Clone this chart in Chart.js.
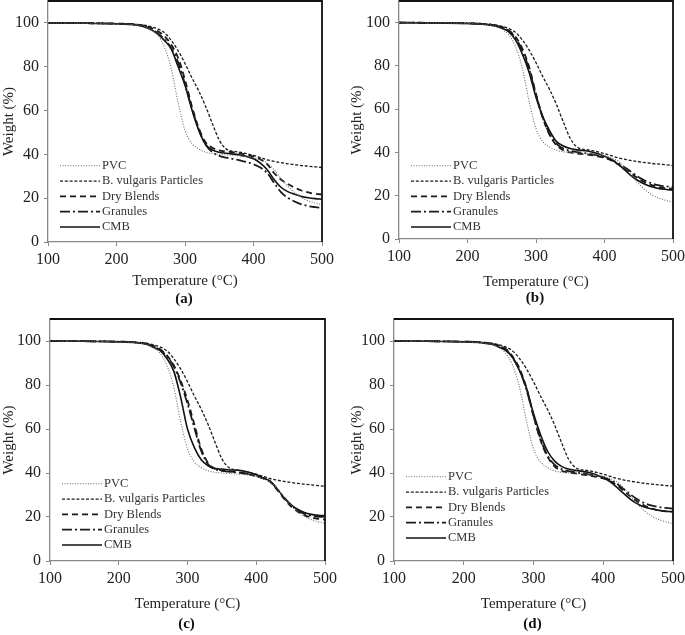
<!DOCTYPE html>
<html>
<head>
<meta charset="utf-8">
<script src="https://cdn.jsdelivr.net/npm/chart.js@4.4.1/dist/chart.umd.min.js"></script>
<style>
  html, body { margin: 0; padding: 0; background: #fff; }
  #wrap { position: relative; width: 685px; height: 635px; overflow: hidden; }
  canvas { position: absolute; }
</style>
</head>
<body>
<div id="wrap">
  <canvas id="chartA" width="342" height="310" style="left:0;top:0"></canvas>
  <canvas id="chartB" width="343" height="310" style="left:342px;top:0"></canvas>
  <canvas id="chartC" width="342" height="325" style="left:0;top:310px"></canvas>
  <canvas id="chartD" width="343" height="325" style="left:342px;top:310px"></canvas>
</div>
<script>
// temperature grid (°C) shared by every curve
const temps = [100, 150, 200, 225, 240, 250, 260, 270, 280, 290, 300, 310, 320, 330, 340,
  350, 360, 380, 400, 410, 420, 430, 440, 450, 460, 470, 480, 490, 500];
const yTicks = [0, 20, 40, 60, 80, 100];
const seriesNames = ['PVC', 'B. vulgaris Particles', 'Dry Blends', 'Granules', 'CMB'];

// weight (%)
const pvc = [100, 99.9, 99.6, 99.2, 98.5, 97, 94.5, 89, 79, 63.5, 51, 45, 42.5, 41, 40.3,
  40, 39.8, 39.3, 38.5, 37.5, 36, 33, 29, 25.5, 22.5, 20.3, 18.8, 17.8, 17];
const bVulgaris = [100, 99.9, 99.7, 99.4, 99, 98.3, 97.3, 95.5, 92, 87.3, 81.5, 75, 69, 62, 54,
  46.5, 42.5, 41, 39.5, 38.5, 37.5, 36.8, 36.2, 35.7, 35.3, 34.9, 34.6, 34.3, 34];

// (a)
const dryA = [100, 99.9, 99.7, 99.4, 98.8, 97.8, 96.3, 94, 90, 84, 74, 62, 52, 45.5, 43,
  41.8, 41.3, 40.5, 39, 37.8, 35.5, 31.5, 28.5, 26.5, 24.8, 23.5, 22.6, 22, 21.7];
const granA = [100, 99.9, 99.6, 99.2, 98.5, 97.2, 95.3, 92.5, 88.5, 82, 72, 61, 51.5, 44.5, 41,
  39.3, 38.5, 37.3, 35.5, 34, 31.5, 27, 22.8, 20.2, 18.5, 17.2, 16.4, 15.9, 15.5];
const cmbA = [100, 99.9, 99.6, 99.2, 98.3, 97, 95, 92, 88, 80, 71.5, 60.5, 51, 44.5, 42,
  41, 40.5, 39.7, 38, 36, 33, 28.5, 25, 23, 21.8, 20.8, 20.2, 19.8, 19.5];
// (b)
const dryB = [100, 99.9, 99.7, 99.4, 98.8, 98, 96.5, 93.5, 88, 79.5, 67, 56, 48, 43.3, 41,
  40, 39.5, 38.8, 37.5, 36.3, 34.5, 32.3, 30, 27.8, 26, 24.8, 24, 23.5, 23.2];
const granB = [100, 99.9, 99.7, 99.4, 98.7, 97.8, 96.2, 93, 87, 78.5, 66.5, 56, 48.5, 44, 41.8,
  40.8, 40.2, 39.2, 37.8, 36.6, 35, 33, 30.8, 28.5, 26.8, 25.6, 24.8, 24.3, 24];
const cmbB = [100, 99.9, 99.6, 99.2, 98.5, 97.5, 95.8, 92, 85.5, 77, 65.5, 56.5, 50, 45, 43,
  41.8, 41.2, 40.3, 38.3, 36.8, 34.5, 31.8, 29, 26.8, 25.2, 24, 23.3, 22.9, 22.6];
// (c)
const dryC = [100, 99.9, 99.7, 99.4, 98.8, 97.8, 96.3, 93.5, 89, 82, 73, 62, 51, 44.5, 42,
  41.2, 40.8, 40, 38.5, 37.5, 36, 32.5, 28.5, 25, 22.5, 20.8, 19.8, 19.2, 18.8];
const granC = [100, 99.9, 99.7, 99.4, 98.8, 97.6, 96, 93, 88.5, 81, 71.5, 60.5, 50, 44, 41.7,
  41, 40.6, 40, 38.6, 37.6, 36.2, 32.8, 29, 25.6, 23, 21.5, 20.6, 20.2, 20];
const cmbC = [100, 99.9, 99.6, 99.2, 98.5, 97.2, 95.7, 92, 86.3, 74.5, 60, 51.5, 46, 43.3, 42,
  41.8, 41.5, 41, 39.2, 37.8, 36.4, 33, 29, 25.8, 23.5, 22, 21.2, 20.8, 20.6];
// (d)
const dryD = [100, 99.9, 99.7, 99.4, 98.8, 98, 96.5, 93, 87.5, 78.5, 66, 55, 47.5, 43, 41,
  40.2, 39.8, 38.8, 37.5, 36.3, 34.3, 31.8, 29, 26.8, 25, 23.8, 23, 22.6, 22.4];
const granD = [100, 99.9, 99.7, 99.4, 98.7, 97.8, 96.2, 92.5, 86.8, 77.8, 66, 55.5, 48, 43.8, 41.8,
  40.8, 40.3, 39.3, 38, 36.8, 35, 32.5, 30, 27.8, 26.2, 25.2, 24.5, 24.1, 23.8];
const cmbD = [100, 99.9, 99.6, 99.2, 98.5, 97.3, 95.8, 92.5, 86.5, 78.5, 67, 57.5, 50, 45.5, 43,
  41.8, 41.2, 40.2, 37.8, 36, 33.3, 30.5, 27.8, 25.8, 24.4, 23.6, 23, 22.6, 22.4];

Chart.defaults.font.family = "'Liberation Serif', 'Times New Roman', serif";
Chart.defaults.font.size = 15;
Chart.defaults.color = '#222';

// line look for each series, in seriesNames order
const lineStyles = [
  { color: '#6a6a6a', width: 1.1, dash: [1, 1.6] },
  { color: '#1a1a1a', width: 1.3, dash: [3, 1.8] },
  { color: '#1a1a1a', width: 1.8, dash: [6, 4] },
  { color: '#1a1a1a', width: 1.8, dash: [10, 3, 2, 3] },
  { color: '#111', width: 1.6, dash: [] }
];

// box frame, inner legend and panel letter
const framePlugin = {
  id: 'frame',
  afterDatasetsDraw(chart, args, opts) {
    const { ctx, chartArea: a } = chart;
    ctx.save();
    ctx.strokeStyle = '#111';
    ctx.lineWidth = 1.8;
    ctx.beginPath();
    ctx.moveTo(a.left, a.top);
    ctx.lineTo(a.right, a.top);
    ctx.lineTo(a.right, a.bottom);
    ctx.stroke();

    const n = chart.data.datasets.length;
    ctx.font = "12.5px 'Liberation Serif', serif";
    ctx.textBaseline = 'middle';
    chart.data.datasets.forEach((ds, i) => {
      const y = a.bottom - opts.legendBottom - (n - 1 - i) * 15.3;
      ctx.strokeStyle = ds.borderColor;
      ctx.lineWidth = ds.borderWidth;
      ctx.setLineDash(ds.borderDash);
      ctx.beginPath();
      ctx.moveTo(a.left + 12, y);
      ctx.lineTo(a.left + 52, y);
      ctx.stroke();
      ctx.setLineDash([]);
      ctx.fillStyle = '#333';
      ctx.textAlign = 'left';
      ctx.fillText(ds.label, a.left + 54, y);
    });

    ctx.font = "bold 15px 'Liberation Serif', serif";
    ctx.fillStyle = '#111';
    ctx.textAlign = 'center';
    ctx.fillText(opts.label, (a.left + a.right) / 2 - 1, a.bottom + opts.labelGap);
    ctx.restore();
  }
};

function makePanel(canvasId, label, curves, geo) {
  const datasets = curves.map((vals, i) => ({
    label: seriesNames[i],
    data: temps.map((t, k) => ({ x: t, y: vals[k] })),
    borderColor: lineStyles[i].color,
    borderWidth: lineStyles[i].width,
    borderDash: lineStyles[i].dash,
    pointRadius: 0,
    cubicInterpolationMode: 'monotone',
    fill: false
  }));

  return new Chart(document.getElementById(canvasId), {
    type: 'line',
    data: { datasets },
    plugins: [framePlugin],
    options: {
      responsive: false,
      animation: false,
      layout: { padding: { left: geo.pL, right: geo.pR, top: geo.pT, bottom: geo.pB } },
      plugins: {
        legend: { display: false },
        tooltip: { enabled: false },
        frame: { label, labelGap: geo.labelGap, legendBottom: geo.legendBottom }
      },
      scales: {
        x: {
          type: 'linear',
          min: 100,
          max: 500,
          ticks: { stepSize: 100, padding: 4, font: { size: 16 } },
          grid: { drawOnChartArea: false, tickLength: 4, color: '#888' },
          border: { color: '#888', width: 1.3 },
          title: { display: true, text: 'Temperature (°C)', padding: 0 },
          afterFit(s) { s.height = geo.xH; s.paddingLeft = 0; s.paddingRight = 0; }
        },
        y: {
          min: 0,
          max: 110,
          afterBuildTicks(s) { s.ticks = yTicks.map(v => ({ value: v })); },
          ticks: { padding: 5, font: { size: 16 } },
          grid: { drawOnChartArea: false, tickLength: 4, color: '#888' },
          border: { color: '#888', width: 1.3 },
          title: { display: true, text: 'Weight (%)', padding: 0 },
          afterFit(s) { s.width = geo.yW; s.paddingTop = 0; s.paddingBottom = 0; }
        }
      }
    }
  });
}

makePanel('chartA', '(a)', [pvc, bVulgaris, dryA, granA, cmbA],
  { pL: 0, yW: 48, pR: 20, pT: 1, xH: 48, pB: 20, labelGap: 57, legendBottom: 15 });
makePanel('chartB', '(b)', [pvc, bVulgaris, dryB, granB, cmbB],
  { pL: 6, yW: 51, pR: 12, pT: 1, xH: 52, pB: 19, labelGap: 59, legendBottom: 12 });
makePanel('chartC', '(c)', [pvc, bVulgaris, dryC, granC, cmbC],
  { pL: 0, yW: 50, pR: 17, pT: 9, xH: 52, pB: 22, labelGap: 63, legendBottom: 16 });
makePanel('chartD', '(d)', [pvc, bVulgaris, dryD, granD, cmbD],
  { pL: 6, yW: 46, pR: 12, pT: 9, xH: 52, pB: 22, labelGap: 63, legendBottom: 23 });
</script>
</body>
</html>
